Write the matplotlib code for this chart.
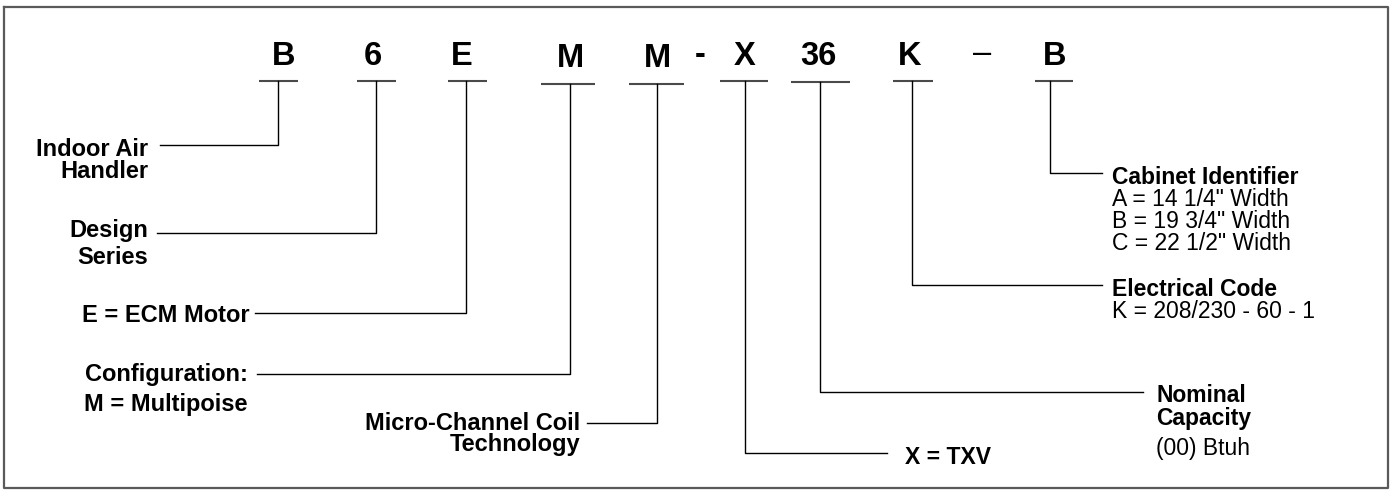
import matplotlib.pyplot as plt

# model number characters and what each one means
codes = ['B', '6', 'E', 'M', 'M', 'X', '36', 'K', 'B']
separators = ['-', '–']

left_labels = [
    ['Indoor Air', 'Handler'],
    ['Design', 'Series'],
    ['E = ECM Motor'],
    ['Configuration:', 'M = Multipoise'],
    ['Micro-Channel Coil', 'Technology'],
]
right_titles = [
    ['X = TXV'],
    ['Nominal', 'Capacity'],
    ['Electrical Code'],
    ['Cabinet Identifier'],
]
right_details = [
    [],
    ['(00) Btuh'],
    ['K = 208/230 - 60 - 1'],
    ['A = 14 1/4" Width', 'B = 19 3/4" Width', 'C = 22 1/2" Width'],
]

# layout (pixel units, y downwards)
code_x = [284, 373, 462, 570, 657, 745, 818, 910, 1055]
code_base = [65, 65, 65, 67, 67, 65, 65, 65, 65]
sep_x = [700, 982]
sep_base = [64, 62]
under_x0 = [259, 357, 448, 541, 629, 720, 791, 893, 1035]
under_x1 = [298, 396, 487, 595, 684, 768, 850, 933, 1073]
under_y = [81, 81, 81, 84, 84, 81, 82, 81, 81]
stem_x = [278, 376, 466, 570, 657, 745, 820, 912, 1050]
stem_y = [145, 233, 313, 374, 423, 453, 392, 285, 173]
arm_end = [160, 157, 255, 257, 587, 887, 1143, 1102, 1102]

left_x = [148, 148, 250, 248, 580]
left_y = [[147, 170], [228, 255], [313], [373, 403], [421, 443]]
right_x = [905, 1156, 1112, 1112]
right_y = [[456], [393, 417], [287], [176]]
detail_y = [[], [446], [309], [197, 219, 241]]

FONT = ['Liberation Sans', 'DejaVu Sans']
cap = 0.36  # half cap height as fraction of font size in px

fig = plt.figure(figsize=(14, 4.91), dpi=100)
ax = fig.add_axes([0, 0, 1, 1])
ax.set_xlim(0, 1400)
ax.set_ylim(491, 0)
ax.axis('off')

# frame
ax.plot([4, 1388, 1388, 4, 4], [7, 7, 488, 488, 7], color='#5a5a5a', lw=1.6)

big = 23.5
for ch, x, yb in zip(codes, code_x, code_base):
    ax.text(x, yb, ch, ha='center', va='baseline', fontsize=big,
            fontweight='bold', family=FONT)
ax.text(sep_x[0], sep_base[0], separators[0], ha='center', va='baseline',
        fontsize=big, fontweight='bold', family=FONT)
ax.text(sep_x[1], sep_base[1], separators[1], ha='center', va='baseline',
        fontsize=big, family=FONT)

for i in range(len(codes)):
    ax.plot([under_x0[i], under_x1[i]], [under_y[i], under_y[i]],
            color='#4a4a4a', lw=1.5, solid_capstyle='butt')
    ax.plot([stem_x[i], stem_x[i], arm_end[i]],
            [under_y[i], stem_y[i], stem_y[i]], color='black', lw=1.0)

fs = 17
fs_reg = 16.5
off = cap * fs * 100 / 72
for lines, x, ys in zip(left_labels, left_x, left_y):
    for t, y in zip(lines, ys):
        ax.text(x, y + off, t, ha='right', va='baseline', fontsize=fs,
                fontweight='bold', family=FONT)

for titles, details, x, ys, dys in zip(right_titles, right_details,
                                       right_x, right_y, detail_y):
    for t, y in zip(titles, ys):
        ax.text(x, y + off, t, ha='left', va='baseline', fontsize=fs_reg,
                fontweight='bold', family=FONT)
    for t, y in zip(details, dys):
        ax.text(x, y + off, t, ha='left', va='baseline', fontsize=fs_reg,
                family=FONT)

fig.savefig('out.png', dpi=100, facecolor='white')
